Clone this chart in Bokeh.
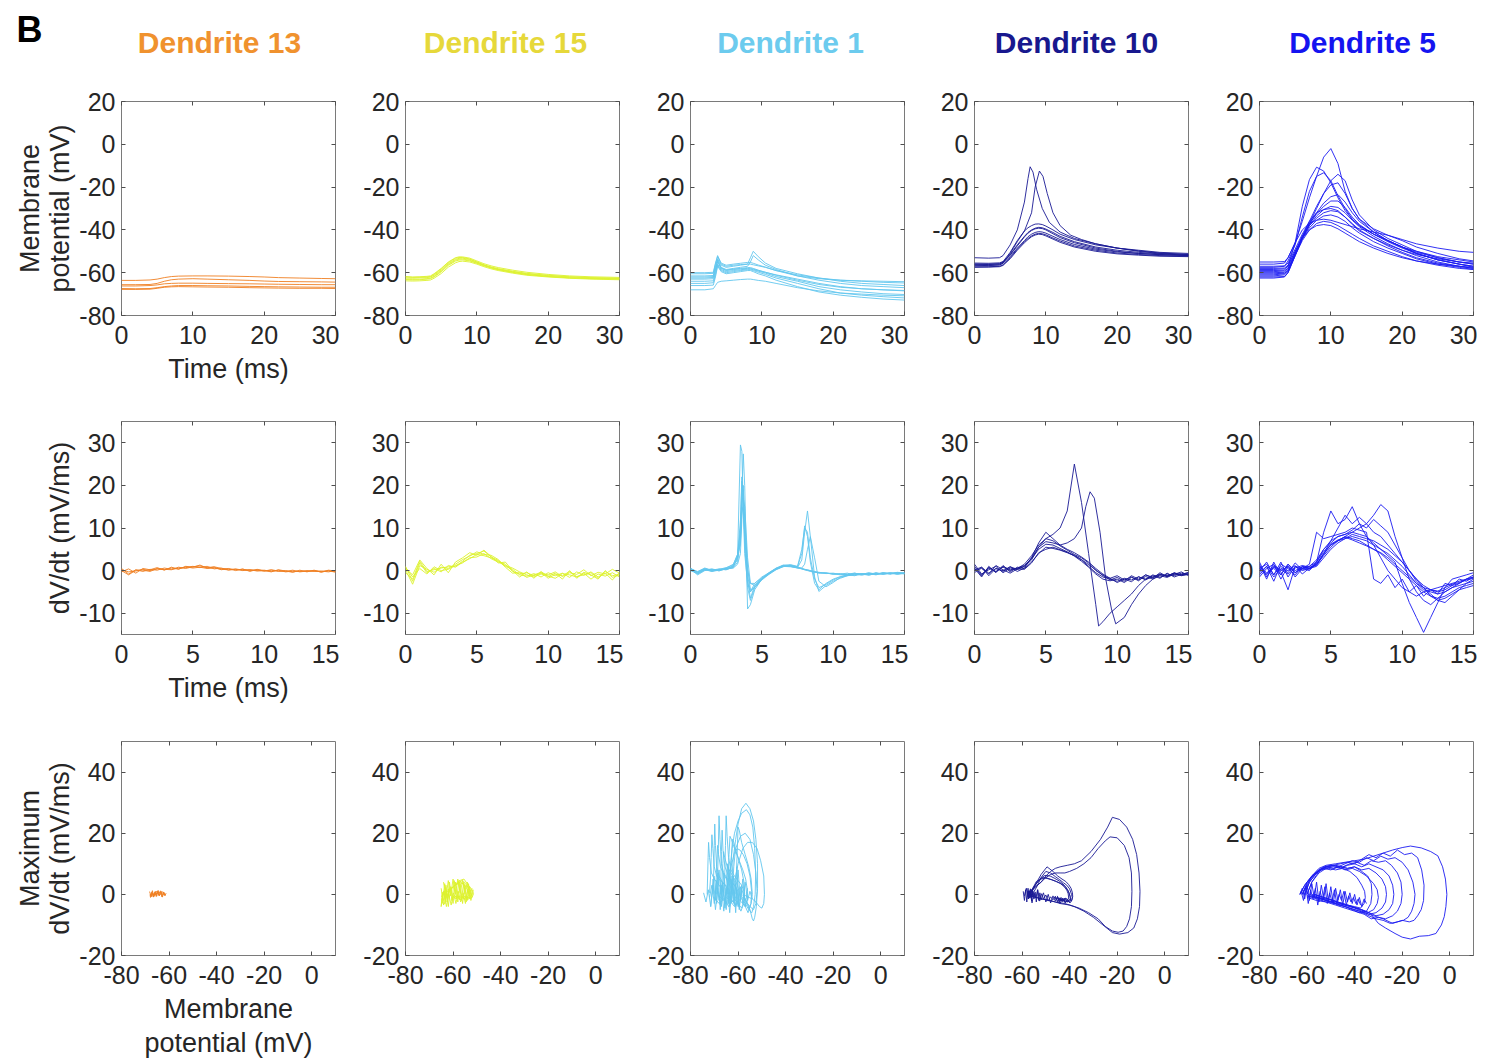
from bokeh.plotting import figure
from bokeh.layouts import column, row
from bokeh.models import LinearAxis, FixedTicker, Label, Range1d
from bokeh.embed import file_html
from bokeh.resources import INLINE

# ---------------------------------------------------------------- labels / colours
dendrite_names = ["Dendrite 13", "Dendrite 15", "Dendrite 1", "Dendrite 10", "Dendrite 5"]
title_colors = ["#F0922E", "#E6D83A", "#6CCBEE", "#18188E", "#1414F0"]
line_colors = ["#F07F22", "#DDF22E", "#63C7EE", "#1A1A95", "#1C1CF2"]

vm_xticks = [0, 10, 20, 30]
vm_yticks = [-80, -60, -40, -20, 0, 20]
dv_xticks = [0, 5, 10, 15]
dv_yticks = [-10, 0, 10, 20, 30]
ph_xticks = [-80, -60, -40, -20, 0]
ph_yticks = [-20, 0, 20, 40]

# common time base for dV/dt traces (ms)
t_half = [0, 0.5, 1, 1.5, 2, 2.5, 3, 3.5, 4, 4.5, 5, 5.5, 6, 6.5, 7, 7.5, 8, 8.5, 9, 9.5,
          10, 10.5, 11, 11.5, 12, 12.5, 13, 13.5, 14, 14.5, 15]

# ================================================================ Dendrite 13
d13_t = [0, 2, 4, 5, 6, 7, 8, 10, 12, 15, 18, 20, 22, 25, 28, 30]
d13_vm_a = [-63.6, -63.6, -63.4, -63.0, -62.3, -61.8, -61.6, -61.5, -61.5, -61.6, -61.8, -62.0, -62.3, -62.5, -62.7, -62.8]
d13_vm_b = [-65.6, -65.6, -65.5, -65.0, -64.0, -63.3, -63.0, -62.8, -63.0, -63.3, -63.6, -63.9, -64.1, -64.2, -64.3, -64.4]
d13_vm_c = [-66.2, -66.2, -66.0, -65.7, -65.2, -65.0, -64.9, -64.9, -65.0, -65.1, -65.2, -65.3, -65.4, -65.5, -65.6, -65.6]
d13_vm_d = [-67.4, -67.5, -67.4, -67.0, -66.5, -66.2, -66.0, -66.0, -66.1, -66.2, -66.4, -66.5, -66.6, -66.7, -66.8, -66.8]
d13_vm_e = [-67.8, -67.8, -67.7, -67.3, -66.8, -66.6, -66.5, -66.6, -66.7, -66.8, -67.0, -67.1, -67.2, -67.3, -67.3, -67.4]

d13_dv_a = [0.5, -0.8, 0.2, -0.2, 0.3, 0.1, 0.6, 0.3, 0.8, 0.5, 0.9, 1.1, 0.7, 0.9, 0.5, 0.4, 0.2, 0.3, 0.0, 0.2, -0.1, 0.1, -0.2, 0.0, -0.3, -0.1, -0.2, 0.0, -0.3, -0.1, -0.2]
d13_dv_b = [0.2, -0.3, -0.1, 0.3, 0.0, 0.4, 0.2, 0.6, 0.4, 0.9, 0.6, 0.8, 0.5, 0.6, 0.3, 0.2, 0.4, 0.1, 0.2, -0.1, 0.1, -0.2, 0.1, -0.3, -0.1, -0.2, 0.0, -0.2, -0.1, -0.3, 0.0]
d13_dv_c = [0.0, -1.0, 0.1, 0.1, -0.2, 0.5, 0.3, 0.2, 0.6, 0.7, 1.0, 0.7, 1.0, 0.4, 0.6, 0.1, 0.3, 0.0, 0.2, 0.0, -0.1, 0.2, -0.1, -0.2, 0.1, -0.3, -0.1, -0.1, -0.2, 0.0, -0.4]
d13_dv_d = [-0.3, 0.4, -0.6, 0.5, 0.2, 0.7, 0.1, 0.8, 0.3, 1.0, 0.8, 1.3, 0.6, 0.8, 0.2, 0.5, 0.0, 0.4, -0.2, 0.3, 0.0, -0.3, 0.2, -0.1, -0.4, 0.1, -0.3, 0.1, -0.4, 0.1, -0.1]

d13_ph_v_a = [-67.5, -67.3, -67.0, -66.6, -66.0, -65.4, -64.8, -64.2, -63.6, -63.0, -62.5, -62.0, -61.6, -61.8, -62.2, -62.6]
d13_ph_d_a = [0.3, -0.8, 0.4, -0.2, 0.6, 0.2, 0.9, 0.5, 1.1, 0.7, 0.8, 0.4, 0.2, -0.1, 0.2, -0.2]
d13_ph_v_b = [-66.5, -66.2, -65.8, -65.3, -64.8, -64.2, -63.6, -63.2, -62.9, -63.1, -63.5, -63.9, -64.3, -64.6]
d13_ph_d_b = [0.2, -0.3, 0.3, 0.0, 0.5, 0.3, 0.8, 0.6, 0.4, 0.1, 0.2, -0.2, 0.1, -0.3]
d13_ph_v_c = [-68.0, -67.8, -67.4, -67.0, -66.5, -66.0, -65.5, -65.2, -65.0, -65.3, -65.7, -66.1, -66.5, -66.8]
d13_ph_d_c = [0.0, -1.0, 0.1, 0.3, -0.2, 0.6, 0.7, 1.0, 0.6, 0.2, 0.0, -0.3, 0.1, -0.4]
d13_ph_v_d = [-67.8, -67.2, -66.6, -66.0, -65.4, -64.8, -64.2, -63.6, -63.0, -62.4, -61.8, -61.2]
d13_ph_d_d = [-0.6, 0.8, -0.9, 0.6, -0.7, 1.0, -0.5, 0.9, -0.8, 0.7, -0.4, 0.3]
d13_ph_v_e = [-68.2, -67.6, -67.0, -66.4, -65.8, -65.2, -64.6, -64.0, -63.4, -62.8, -62.2, -61.6]
d13_ph_d_e = [0.9, -0.5, 1.2, -0.8, 1.0, -0.6, 1.3, -0.4, 0.9, -0.9, 0.6, -0.5]

# ================================================================ Dendrite 15
d15_t = [0, 1, 2, 3, 3.5, 4, 5, 6, 7, 7.5, 8, 9, 10, 11, 12, 13, 15, 17, 20, 23, 26, 30]
d15_vm_a = [-61.8, -62.0, -61.9, -61.7, -61.5, -60.5, -58.0, -55.0, -53.0, -52.6, -52.6, -53.2, -54.5, -55.8, -56.8, -57.6, -58.8, -59.8, -60.8, -61.5, -61.9, -62.2]
d15_vm_b = [-62.5, -62.6, -62.4, -62.3, -62.0, -61.2, -58.8, -55.8, -53.8, -53.3, -53.2, -53.8, -55.0, -56.3, -57.3, -58.1, -59.3, -60.3, -61.2, -61.9, -62.3, -62.6]
d15_vm_c = [-63.2, -63.4, -63.3, -63.0, -62.8, -62.0, -59.6, -56.6, -54.6, -54.1, -54.0, -54.5, -55.6, -56.8, -57.8, -58.6, -59.8, -60.8, -61.7, -62.4, -62.8, -63.0]
d15_vm_d = [-63.8, -63.9, -63.8, -63.6, -63.4, -62.6, -60.4, -57.4, -55.4, -54.8, -54.6, -55.0, -56.0, -57.2, -58.2, -59.0, -60.2, -61.2, -62.0, -62.6, -63.0, -63.3]
d15_vm_e = [-62.0, -62.2, -62.1, -62.0, -61.8, -60.8, -58.3, -55.3, -53.3, -52.9, -52.9, -53.6, -55.0, -56.4, -57.6, -58.5, -59.8, -60.9, -61.8, -62.4, -62.7, -62.9]
d15_vm_f = [-63.0, -63.1, -63.0, -62.8, -62.5, -61.7, -59.2, -56.2, -54.2, -53.7, -53.6, -54.2, -55.4, -56.6, -57.6, -58.4, -59.5, -60.5, -61.4, -62.0, -62.4, -62.7]

d15_dv_a = [1.0, -2.5, 1.8, -0.5, 0.5, -0.3, 1.2, 0.8, 2.0, 2.8, 3.8, 3.5, 3.0, 2.2, 1.5, -0.2, -0.8, -0.5, -1.2, -0.6, -1.0, -0.3, -1.4, -0.5, -0.9, 0.2, -1.2, -0.4, -0.8, 0.3, -0.6]
d15_dv_b = [0.2, -3.2, 1.2, 0.3, -0.4, 0.8, 0.5, 1.5, 2.6, 3.4, 4.4, 3.8, 3.6, 2.6, 1.0, 0.3, -1.0, -1.3, -0.7, -1.5, -0.5, -1.2, -0.6, -1.6, -0.3, -1.1, -0.5, -1.8, -0.2, -1.2, -0.9]
d15_dv_c = [0.8, -1.5, 0.5, -0.8, 0.9, 0.0, 0.3, 1.2, 1.8, 3.0, 3.2, 4.0, 2.8, 2.0, 1.2, 0.6, -0.3, -1.0, -1.5, -0.8, -1.3, -1.8, -0.7, -1.0, -1.5, -0.6, -2.0, -0.8, -1.3, -0.5, -1.5]
d15_dv_d = [-0.5, -2.0, 2.2, -0.2, 0.2, 0.6, 0.9, 1.0, 2.2, 3.6, 4.0, 4.6, 3.2, 2.4, 0.8, -0.6, -0.5, -1.6, -1.0, -0.4, -1.8, -0.9, -1.2, -0.2, -1.4, -1.0, -0.3, -1.5, -0.6, -2.2, -0.4]
d15_dv_e = [0.5, -1.0, 2.5, 0.5, -1.0, 1.5, -0.5, 2.0, 3.0, 4.2, 3.6, 4.8, 3.3, 1.8, 2.0, 0.0, -1.5, -0.3, -1.8, -0.2, -1.4, -0.6, -2.0, 0.0, -1.8, -0.4, -1.0, -2.0, 0.0, -1.6, -1.0]

d15_ph_v_a = [-62.0, -62.4, -61.6, -62.2, -61.8, -61.0, -59.5, -57.5, -55.5, -53.8, -52.6, -52.2, -52.8, -53.6, -54.8, -56.0, -57.0, -57.8, -58.6, -59.4]
d15_ph_d_a = [1.0, -2.5, 1.8, -0.5, 0.5, 1.5, 2.8, 3.8, 3.5, 2.5, 1.0, -0.2, -0.8, -1.2, -0.6, -1.3, -0.4, -1.1, -0.6, -1.0]
d15_ph_v_b = [-63.0, -63.5, -62.6, -63.1, -62.5, -61.5, -59.8, -57.6, -55.4, -53.6, -52.0, -51.4, -52.0, -53.0, -54.2, -55.4, -56.4, -57.2, -58.0, -58.8]
d15_ph_d_b = [0.2, -3.2, 1.2, 0.3, -0.4, 1.2, 2.6, 4.4, 5.0, 3.0, 1.5, 0.2, -1.0, -1.4, -0.6, -1.6, -0.5, -1.3, -0.3, -1.2]
d15_ph_v_c = [-64.5, -65.0, -64.2, -64.7, -64.0, -63.0, -61.2, -59.0, -56.8, -55.0, -53.6, -53.2, -53.8, -54.8, -56.0, -57.2, -58.2, -59.0, -59.8, -60.5]
d15_ph_d_c = [0.8, -4.0, 0.5, -0.8, 0.9, 1.2, 1.8, 3.0, 4.0, 2.8, 1.2, 0.0, -1.0, -1.5, -0.8, -1.8, -0.7, -1.5, -0.6, -2.0]
d15_ph_v_d = [-63.5, -64.0, -63.0, -63.8, -63.2, -62.0, -60.4, -58.2, -56.0, -54.2, -53.0, -52.8, -53.4, -54.4, -55.6, -56.8, -57.8, -58.6, -59.4, -60.2]
d15_ph_d_d = [-0.5, -2.0, 2.2, -0.2, 0.6, 1.0, 2.2, 3.6, 4.6, 3.2, 0.8, -0.6, -1.6, -1.0, -0.4, -1.8, -0.9, -1.2, -0.2, -1.4]
d15_ph_v_e = [-64.5, -63.5, -62.5, -61.5, -60.5, -59.5, -58.5, -57.5, -56.5, -55.5, -54.5, -53.5, -52.5, -51.5]
d15_ph_d_e = [-3, 3.5, -2.5, 4, -2, 4.5, -1.5, 4.5, -2, 4, -2.5, 3.5, -2, 1.5]
d15_ph_v_f = [-65, -64, -63, -62, -61, -60, -59, -58, -57, -56, -55, -54, -53, -52]
d15_ph_d_f = [2, -3.5, 3, -4, 2.5, -3, 4, -2.5, 3.5, -3, 3, -2, 2.5, -1]
d15_ph_v_g = [-64, -63, -62, -61, -60, -59, -58, -57, -56, -55, -54, -53, -52]
d15_ph_d_g = [4, -1, 4.5, -0.5, 5, 0, 5, 0.5, 4.5, 0, 4, -0.5, 2]
d15_ph_v_h = [-64.8, -63.8, -62.8, -61.8, -60.8, -59.8, -58.8, -57.8, -56.8, -55.8, -54.8, -53.8, -52.8]
d15_ph_d_h = [-2, 1, -4, 0, -3.5, 0.5, -3, 1, -2.5, 0.5, -3, 1.5, -1.5]

# ================================================================ Dendrite 1
d1_t = [0, 2, 3.2, 3.5, 3.8, 4.3, 5, 6, 7, 8, 8.4, 8.8, 9.5, 10.5, 12, 15, 18, 21, 24, 27, 30]
d1_vm_a = [-60.5, -60.5, -60.3, -56.0, -52.5, -56.0, -57.0, -56.5, -56.2, -56.0, -56.0, -56.3, -56.8, -57.5, -59.0, -61.0, -62.5, -63.5, -64.0, -64.5, -64.8]
d1_vm_b = [-61.5, -61.5, -61.3, -57.0, -53.5, -56.5, -57.5, -57.0, -56.5, -56.0, -53.0, -50.0, -52.5, -55.5, -58.0, -60.5, -62.5, -64.0, -65.0, -65.5, -66.0]
d1_vm_c = [-62.5, -62.5, -62.2, -58.0, -54.0, -57.5, -58.5, -58.0, -57.5, -57.0, -55.0, -52.0, -54.0, -56.5, -58.5, -61.5, -63.5, -65.0, -66.0, -66.5, -67.0]
d1_vm_d = [-63.0, -63.0, -62.8, -59.0, -55.0, -58.0, -59.0, -58.5, -58.2, -58.0, -58.0, -58.3, -59.0, -59.8, -61.0, -63.0, -65.0, -66.5, -67.5, -68.0, -68.5]
d1_vm_e = [-64.0, -64.0, -63.8, -60.0, -56.0, -58.5, -59.5, -59.0, -58.6, -58.3, -58.3, -58.6, -59.3, -60.2, -61.8, -64.0, -66.5, -68.0, -69.0, -69.8, -70.2]
d1_vm_f = [-65.0, -65.0, -64.7, -61.0, -56.5, -59.0, -60.0, -59.5, -59.0, -58.6, -58.6, -59.0, -59.8, -60.8, -62.5, -65.0, -67.5, -69.5, -70.5, -71.2, -71.8]
d1_vm_g = [-66.0, -66.0, -65.8, -62.0, -57.0, -59.5, -60.5, -60.0, -59.5, -59.0, -59.0, -59.5, -60.5, -61.5, -63.5, -66.5, -69.0, -70.5, -71.5, -72.3, -72.8]
d1_vm_h = [-68.0, -68.0, -67.5, -66.0, -64.5, -64.0, -63.8, -63.5, -63.2, -63.0, -63.0, -63.2, -63.6, -64.0, -65.0, -67.0, -68.5, -69.5, -70.0, -70.5, -70.8]
d1_vm_i = [-60.0, -60.0, -59.8, -55.5, -52.0, -55.5, -56.5, -56.0, -55.6, -55.2, -55.2, -55.6, -56.4, -57.4, -59.0, -61.5, -62.8, -63.5, -63.8, -64.0, -64.2]
d1_vm_j = [-62.0, -62.0, -61.8, -58.5, -54.5, -57.8, -58.8, -58.3, -58.0, -57.6, -57.6, -58.0, -58.8, -59.8, -61.2, -63.5, -65.5, -66.8, -67.5, -68.0, -68.3]

d1_td = [0, 0.5, 1, 1.5, 2, 2.5, 3, 3.3, 3.5, 3.6, 3.7, 3.8, 4.0, 4.2, 4.5, 5, 5.5, 6, 6.5, 7, 7.5,
         7.8, 8.0, 8.2, 8.4, 8.7, 9.0, 9.5, 10, 10.5, 11, 11.5, 12, 12.5, 13, 13.5, 14, 14.5, 15]
d1_dv_a = [0.4, -0.8, 0.2, -0.2, 0.3, 0.2, 0.8, 3.5, 29.5, 28, 14, 4, -3, -5, -3, -1.5, -0.5, 0.5, 1.2, 1.0, 0.6, 0.4, 0.2, 0.0, -0.2, -0.4, -0.5, -0.6, -0.8, -0.7, -1.0, -0.6, -0.9, -0.7, -1.0, -0.6, -0.8, -0.5, -0.7]
d1_dv_b = [0.2, -0.3, 0.5, 0.0, 0.2, 0.6, 1.5, 3.8, 6, 18, 27.4, 20, -9, -8, -4.5, -2, -0.8, 0.3, 1.0, 1.2, 0.8, 0.5, 0.3, 0.1, 0.0, -0.3, -0.6, -0.5, -0.9, -0.8, -0.6, -1.1, -0.7, -0.9, -0.5, -0.8, -0.6, -0.9, -0.6]
d1_dv_c = [0.6, -0.5, 0.1, 0.4, -0.1, 0.5, 1.0, 3.0, 10, 21, 16, 8, -2, -6.5, -3.5, -1.8, -0.6, 0.4, 1.0, 1.1, 0.7, 2.5, 9, 14, 8, -1.5, -4.9, -3.5, -2.5, -1.8, -1.2, -1.0, -0.8, -1.1, -0.6, -0.9, -0.5, -0.7, -0.6]
d1_dv_d = [0.0, -0.6, 0.3, 0.1, 0.4, 0.2, 1.2, 2.5, 7, 15, 19, 12, 1, -4.5, -4, -2.2, -0.9, 0.2, 0.9, 1.3, 0.9, 4, 10.5, 8, 2, -3, -4.5, -3, -2, -1.4, -1.0, -0.8, -1.1, -0.7, -0.9, -0.5, -0.8, -0.6, -0.8]
d1_dv_e = [0.3, -1.0, 0.0, 0.2, 0.0, 0.4, 0.6, 1.5, 4, 12, 17, 15, 3, -3, -3.5, -2, -0.7, 0.3, 1.1, 1.0, 0.6, 0.5, 0.3, 0.2, 0.0, -0.2, -0.4, -0.6, -0.7, -1.0, -0.8, -0.6, -0.9, -0.5, -0.8, -0.6, -0.7, -0.4, -0.6]
d1_dv_f = [0.5, -0.4, 0.4, -0.2, 0.1, 0.5, 0.9, 3.2, 12, 22, 18, 6, -4, -7, -4, -2, -0.5, 0.6, 1.3, 1.2, 0.8, 0.6, 1.5, 5, 8, 3, -2.5, -3.8, -2.8, -1.6, -1.2, -0.9, -0.7, -1.0, -0.8, -0.5, -0.7, -0.6, -0.5]
d1_dv_g = [0.1, -0.7, 0.2, 0.3, 0.2, 0.3, 0.7, 2.0, 8, 16, 20, 10, -1, -5, -3.8, -1.9, -0.7, 0.4, 1.0, 0.9, 0.7, 0.4, 0.2, 0.1, -0.1, -0.3, -0.5, -0.7, -0.6, -0.9, -1.1, -0.7, -0.8, -0.6, -0.9, -0.7, -0.5, -0.8, -0.6]
d1_dv_h = [0.4, -0.2, 0.6, 0.1, 0.3, 0.7, 1.3, 3.8, 9, 15, 14, 9, 0, -3, -3, -1.7, -0.6, 0.5, 1.2, 1.4, 1.0, 5, 10, 9, 3, -2, -4, -3.2, -2.2, -1.5, -1.0, -1.2, -0.8, -0.9, -0.6, -0.8, -0.7, -0.5, -0.7]

d1_ph_v_1 = [-63, -62.8, -62.5, -62, -61, -60, -58.5, -56.7, -55, -53.5, -52.5, -51.8, -51.8, -52.3, -53, -53.5, -54, -55, -56, -57, -57.5]
d1_ph_d_1 = [0, 2, 6, 12, 18, 23, 28, 29.8, 28, 24, 18, 10, 2, -4, -7.5, -8.7, -8, -5, -3, -1.5, -0.5]
d1_ph_v_2 = [-64, -63.8, -63.3, -62.5, -61.5, -60, -58.5, -56.5, -55, -53.8, -53, -52.6, -52.8, -53.5, -54.2, -55, -56, -57, -58]
d1_ph_d_2 = [0, 3, 9, 15, 20, 24, 26.5, 27.7, 26, 22, 15, 7, 0, -4, -6, -5.5, -3.5, -1.5, -0.3]
d1_ph_v_3 = [-62, -61.5, -60, -58, -56, -54, -52, -50.5, -49.2, -48.9, -49.2, -50, -51, -52.5, -54, -56, -58]
d1_ph_d_3 = [0, 4, 10, 15, 17, 17, 15, 11, 6, 0, -3, -4.5, -4, -2.5, -1.5, -0.8, 0]
d1_ph_v_4 = [-65, -64.5, -63, -61, -59, -57, -55, -53.5, -52.5, -52, -52.5, -53.5, -55, -57, -59]
d1_ph_d_4 = [0, 3, 9, 15, 19, 20, 18, 13, 7, 1, -3, -5, -4, -2, -0.5]
d1_ph_v_5 = [-72, -71.6, -71.3, -71.0, -70.6, -70.0, -69.0, -67.5, -66, -64.5, -63.5, -63.5, -64.5, -66, -68]
d1_ph_d_5 = [0.5, 5, 12, 19.5, 15, 9, 6, 4.5, 3.5, 2.5, 1, -1.5, -3, -2, -0.5]
d1_ph_v_6 = [-69, -68.6, -68.3, -68.0, -67.6, -67.0, -66, -64.5, -63, -61.5, -60.5, -60.5, -61.5, -63, -65]
d1_ph_d_6 = [0, 6, 15, 25.7, 18, 10, 7, 5, 4, 3, 1, -2, -4, -2.5, -1]
d1_ph_v_7 = [-66, -65.6, -65.3, -65.0, -64.6, -64.0, -63, -61.5, -60, -58.5, -57.5, -57.5, -58.5, -60, -62]
d1_ph_d_7 = [0.5, 6, 16, 25.7, 19, 12, 8, 6, 4.5, 3, 1, -2, -4.5, -3, -1]
d1_ph_v_8 = [-67.5, -67.2, -67.0, -66.7, -66.3, -65.5, -64, -62.5, -61, -60, -60, -61, -62.5, -64]
d1_ph_d_8 = [0, 7, 14, 21, 14, 9, 6, 4, 2.5, 1, -2, -3.5, -2, -0.5]
d1_ph_v_9 = [-61, -60.7, -60.3, -60, -59.5, -58.5, -57, -55.5, -54.5, -54, -54.5, -55.5, -57, -59]
d1_ph_d_9 = [0, 7, 15, 22, 21, 17, 13, 9, 5, 0, -3, -5, -3, -1]
d1_ph_v_10 = [-63.5, -63.2, -62.8, -62.4, -61.8, -60.8, -59.5, -58, -56.8, -56, -56, -57, -58.5, -60.5]
d1_ph_d_10 = [0, 5, 11, 18, 17, 14, 11, 8, 5, 1, -2, -4, -2.5, -1]
d1_ph_v_11 = [-70.5, -70.2, -70.0, -69.8, -69.5, -69, -68, -66.5, -65, -64, -64, -65, -66.5]
d1_ph_d_11 = [0, 8, 16, 23, 16, 9, 6, 4, 2.5, 1, -1.5, -3, -1]
d1_ph_v_12 = [-73, -72.8, -72.6, -72.4, -72.0, -71.2, -70, -68.5, -67, -66, -66.5, -68, -70]
d1_ph_d_12 = [0, 6, 12, 17, 12, 7, 5, 3.5, 2, 0.5, -2, -3, -1]
d1_ph_v_13 = [-67, -66.7, -66.4, -66.1, -65.6, -64.5, -63, -61.5, -60.2, -59.5, -59.8, -61, -62.5]
d1_ph_d_13 = [0, 5, 10, 14, 12, 9, 7, 5, 3, 0.5, -2, -4, -2]
d1_ph_v_14 = [-64.5, -64.2, -63.8, -63.4, -62.8, -61.5, -60, -58.5, -57.5, -57.2, -57.6, -58.8, -60.5]
d1_ph_d_14 = [0, 6, 13, 19, 18, 15, 12, 8, 4, 0, -3, -5.5, -2.5]
d1_ph_v_15 = [-69.5, -69.2, -68.9, -68.6, -68.2, -67.4, -66, -64.5, -63.2, -62.5, -62.8, -64, -65.5]
d1_ph_d_15 = [0, 5, 11, 16, 13, 9, 6.5, 4.5, 2.5, 0.5, -2.5, -4, -1.5]
d1_ph_v_16 = [-62.5, -62.2, -61.8, -61.3, -60.5, -59.2, -57.8, -56.2, -55, -54.3, -54.6, -55.8, -57.5]
d1_ph_d_16 = [0, 4, 9, 13, 15, 14.5, 13, 10, 6, 1, -3, -6, -3]
d1_ph_v_n1 = [-74.5, -73.5, -72.5, -71.5, -70.5, -69.5, -68.5, -67.5, -66.5, -65.5, -64.5, -63.5, -62.5, -61.5, -60.5, -59.5, -58.5, -57.5]
d1_ph_d_n1 = [0.5, -2.5, 1.5, -4, 3, -5, 2, -3.5, 4, -4.5, 2.5, -6, 3.5, -3, 1.5, -4, 2, -1]
d1_ph_v_n2 = [-72, -71, -70, -69, -68, -67, -66, -65, -64, -63, -62, -61, -60, -59, -58, -57, -56, -55, -54]
d1_ph_d_n2 = [-1, 3, -3, 4.5, -2, 3, -5.5, 2, -3, 5, -2.5, 3.5, -4, 2.5, -3, 4, -2, 1, -1.5]
d1_ph_v_n3 = [-70, -69, -68, -67, -66, -65, -64, -63, -62, -61, -60, -59, -58, -57, -56]
d1_ph_d_n3 = [6, -3, 8, -4, 7, -5, 9, -3, 6, -6, 8, -2, 5, -4, 2]
d1_ph_v_n4 = [-71.5, -70.5, -69.5, -68.5, -67.5, -66.5, -65.5, -64.5, -63.5, -62.5, -61.5, -60.5, -59.5, -58.5]
d1_ph_d_n4 = [-4, 5, -2, 7, -5, 4, -3, 10, -4, 6, -2, 9, -5, 3]

# ================================================================ Dendrite 10
d10_t = [0, 2, 3.5, 4, 5, 6, 7, 7.5, 8, 8.5, 9, 9.5, 10, 11, 12, 14, 17, 20, 23, 26, 30]
d10_vm_a = [-55.5, -55.6, -55.4, -54.8, -50.5, -45.0, -40.5, -39.0, -38.0, -37.3, -37.2, -37.5, -38.2, -40.0, -42.0, -44.5, -47.0, -48.5, -49.5, -50.5, -51.0]
d10_vm_b = [-56.0, -56.0, -55.8, -55.0, -51.5, -47.0, -43.0, -41.2, -40.0, -39.2, -38.8, -39.0, -39.6, -41.2, -43.0, -45.5, -48.0, -49.5, -50.5, -51.2, -51.8]
d10_vm_c = [-56.5, -56.7, -56.4, -55.6, -52.5, -48.5, -45.0, -43.2, -42.0, -41.2, -40.8, -41.0, -41.5, -43.0, -44.5, -46.8, -49.0, -50.3, -51.0, -51.6, -52.0]
d10_vm_d = [-57.2, -57.2, -57.0, -56.3, -53.0, -49.0, -45.5, -44.0, -42.8, -42.0, -41.6, -41.8, -42.3, -43.8, -45.2, -47.5, -49.5, -50.8, -51.5, -52.0, -52.3]
d10_vm_e = [-57.5, -57.4, -57.2, -56.6, -53.5, -49.5, -46.0, -44.5, -43.2, -42.4, -42.0, -42.2, -42.8, -44.3, -45.8, -48.0, -50.0, -51.2, -51.8, -52.3, -52.5]
d10_vm_f = [-56.0, -56.2, -55.9, -55.2, -51.8, -47.5, -43.3, -41.5, -40.3, -39.5, -39.2, -39.4, -40.0, -41.8, -43.6, -46.0, -48.5, -50.0, -51.0, -51.5, -52.0]
d10_ts1 = [0, 2, 3.5, 4, 5, 6, 7, 7.5, 7.8, 8.2, 8.7, 9.5, 10.5, 12, 14, 17, 20, 23, 26, 30]
d10_vm_s1 = [-53.0, -53.2, -53.0, -52.0, -47.0, -40.0, -27.0, -16.0, -10.5, -13.0, -21.0, -30.0, -36.5, -41.0, -44.0, -46.5, -48.5, -49.8, -50.8, -51.5]
d10_ts2 = [0, 2, 3.5, 4, 5, 6, 7, 8, 8.5, 9.1, 9.6, 10.2, 11, 12, 13.5, 15, 17, 20, 23, 26, 30]
d10_vm_s2 = [-56.5, -56.5, -56.3, -55.5, -51.0, -45.5, -40.5, -32.0, -20.0, -12.5, -15.0, -23.0, -32.0, -38.0, -42.5, -44.5, -46.5, -48.5, -50.0, -51.0, -51.5]

d10_dv_e1 = [0.5, -1.5, 1.0, -0.5, 1.2, -0.3, 0.8, 0.5, 2.0, 4.0, 5.5, 5.2, 4.8, 4.2, 3.5, 2.5, 1.0, -0.5, -1.5, -2.0, -2.5, -1.8, -2.2, -1.5, -2.0, -1.0, -1.6, -0.8, -1.2, -0.6, -1.0]
d10_dv_e2 = [1.5, -0.8, 0.2, 1.0, -0.5, 0.6, 0.3, 1.0, 2.5, 5.5, 7.5, 7.0, 5.8, 4.8, 3.8, 3.0, 1.8, 0.0, -1.0, -2.2, -1.6, -2.5, -1.2, -2.0, -1.0, -1.8, -0.5, -1.4, -0.9, -0.3, -1.2]
d10_dv_e3 = [-0.5, 0.8, -1.2, 0.5, 0.0, 0.9, -0.2, 0.6, 3.0, 6.5, 9.0, 7.5, 6.0, 5.0, 4.2, 3.2, 2.0, 0.5, -0.8, -1.8, -2.8, -2.0, -2.6, -1.4, -2.2, -1.2, -1.8, -0.6, -1.5, -0.9, -0.4]
d10_dv_e4 = [0.0, 0.5, -0.8, 1.2, 0.2, -0.6, 0.4, 0.3, 1.8, 4.2, 5.0, 5.5, 4.9, 4.3, 3.6, 2.6, 1.4, 0.2, -1.2, -1.8, -1.2, -2.2, -1.5, -2.4, -1.0, -1.6, -1.0, -1.2, -0.6, -1.1, -0.8]
d10_dv_e5 = [1.0, -1.2, 0.6, -0.2, 0.8, 0.0, 0.6, 1.2, 2.8, 5.0, 6.2, 6.0, 5.2, 4.4, 3.4, 2.2, 0.8, -0.8, -2.0, -2.4, -2.0, -2.8, -1.6, -2.2, -1.4, -2.0, -0.9, -1.3, -0.5, -1.0, -0.7]
d10_tds1 = [0, 0.5, 1, 1.5, 2, 2.5, 3, 3.5, 4, 4.5, 5, 5.5, 6, 6.5, 7, 7.5, 8, 8.5, 8.7, 9, 9.5, 10, 10.5, 11, 11.5, 12, 12.5, 13, 13.5, 14, 14.5, 15]
d10_dv_s1 = [0.5, -1.0, 0.8, -0.3, 1.0, 0.2, 0.5, 1.5, 3.5, 6.0, 7.5, 8.5, 10.0, 14.0, 25.0, 16.0, 4.0, -8.0, -13.0, -12.0, -10.0, -8.5, -7.0, -5.5, -3.5, -2.0, -1.5, -0.8, -1.4, -0.6, -1.0, -0.5]
d10_tds2 = [0, 0.5, 1, 1.5, 2, 2.5, 3, 3.5, 4, 4.5, 5, 5.5, 6, 6.5, 7, 7.5, 7.8, 8.1, 8.4, 8.8, 9.2, 9.6, 9.9, 10.5, 11, 11.5, 12, 12.5, 13, 13.5, 14, 14.5, 15]
d10_dv_s2 = [0.2, 0.8, -0.6, 0.5, -0.2, 0.9, 0.3, 1.0, 3.0, 5.5, 6.8, 6.5, 6.0, 6.5, 7.5, 10.0, 15.0, 18.5, 17.0, 9.0, -2.0, -9.0, -12.5, -11.0, -8.0, -5.5, -3.5, -2.0, -1.2, -1.6, -0.8, -1.2, -0.9]

d10_ph_v_1 = [-57.5, -57.2, -57.6, -57.0, -57.4, -56.8, -55.5, -53.5, -51.5, -49.5, -47.5, -45.5, -43.5, -41.8, -40.5, -39.8, -39.6, -40.0, -40.8, -41.8, -42.8, -43.6, -44.4, -45.2, -46.0]
d10_ph_d_1 = [0.5, -1.5, 1.0, -0.5, 1.2, 0.5, 2.0, 4.0, 5.5, 5.2, 4.8, 4.2, 3.5, 2.5, 1.0, -0.5, -1.5, -2.0, -2.5, -1.8, -2.2, -1.5, -2.0, -1.0, -1.6]
d10_ph_v_2 = [-56.0, -55.7, -56.2, -55.6, -55.9, -55.2, -53.8, -52.0, -50.0, -48.0, -46.0, -44.2, -42.6, -41.2, -40.0, -39.2, -38.9, -39.2, -40.0, -41.0, -42.0, -42.8, -43.6, -44.4, -45.2]
d10_ph_d_2 = [1.5, -0.8, 0.2, 1.0, -0.5, 0.6, 2.5, 5.5, 7.5, 7.0, 5.8, 4.8, 3.8, 3.0, 1.8, 0.0, -1.0, -2.2, -1.6, -2.5, -1.2, -2.0, -1.0, -1.8, -0.5]
d10_ph_v_3 = [-56.8, -56.5, -57.0, -56.4, -56.7, -56.0, -54.5, -52.0, -49.5, -47.0, -45.0, -43.2, -41.6, -40.4, -39.4, -38.8, -38.7, -39.0, -39.8, -40.8, -41.8, -42.6, -43.4, -44.2, -45.0]
d10_ph_d_3 = [-0.5, 0.8, -1.2, 0.5, 0.0, 0.9, 3.0, 6.5, 9.0, 7.5, 6.0, 5.0, 4.2, 3.2, 2.0, 0.5, -0.8, -1.8, -2.8, -2.0, -2.6, -1.4, -2.2, -1.2, -1.8]
d10_ph_v_4 = [-57.2, -57.0, -57.4, -56.8, -57.1, -56.7, -55.6, -54.0, -52.0, -50.0, -48.0, -46.0, -44.0, -42.4, -41.2, -40.6, -40.4, -40.8, -41.6, -42.6, -43.4, -44.2, -45.0, -45.8, -46.4]
d10_ph_d_4 = [0.0, 0.5, -0.8, 1.2, 0.2, 0.4, 1.8, 4.2, 5.0, 5.5, 4.9, 4.3, 3.6, 2.6, 1.4, 0.2, -1.2, -1.8, -1.2, -2.2, -1.5, -2.4, -1.0, -1.6, -1.0]
d10_ph_v_5 = [-56.5, -56.2, -56.7, -56.1, -56.4, -55.8, -54.6, -52.6, -50.4, -48.2, -46.2, -44.4, -42.8, -41.4, -40.4, -39.8, -39.6, -40.0, -40.8, -41.8, -42.8, -43.6, -44.4, -45.2, -46.0]
d10_ph_d_5 = [1.0, -1.2, 0.6, -0.2, 0.8, 1.2, 2.8, 5.0, 6.2, 6.0, 5.2, 4.4, 3.4, 2.2, 0.8, -0.8, -2.0, -2.4, -2.0, -2.8, -1.6, -2.2, -1.4, -2.0, -0.9]
d10_ph_v_b1 = [-57, -55, -52, -50, -48, -46, -44, -41, -38, -35, -31, -27, -24, -22, -19, -16, -13.5, -11.8, -10.8, -10.4, -10.6, -11.5, -13, -15.5, -19, -22, -26, -30, -34, -38, -42, -46, -50, -54, -57]
d10_ph_d_b1 = [0, 2, 4, 6, 7.5, 8.5, 9, 9.5, 10, 11, 14, 18, 22, 25.2, 24.5, 22, 18, 13, 7, 1, -4, -8, -11, -12.5, -13, -12.5, -10, -7.5, -5.5, -4, -3, -2.5, -1.8, -1.0, -0.5]
d10_ph_v_b2 = [-57, -55, -52, -50, -48, -46, -44, -42, -40, -37, -34, -31, -28, -25, -23, -20, -17, -15, -14, -13.8, -14, -14.8, -16, -17.5, -19.6, -22, -25, -28, -32, -36, -40, -44, -48, -52, -55]
d10_ph_d_b2 = [0, 2, 4, 5.5, 6.5, 7, 7, 7, 7.5, 8.5, 10, 12, 15, 17.5, 18.8, 18.5, 16, 12, 7, 1, -4, -8, -10.5, -12, -12.4, -12, -10.5, -8, -6, -4.5, -3.5, -3, -2, -1.5, -0.8]
d10_ph_v_n = [-59.5, -59, -58.5, -58, -57.5, -57, -56.5, -56, -55.5, -55, -54.5, -54, -53.5, -53, -52.5, -52, -51, -50, -49, -48, -47, -46, -45, -44, -43, -42, -41, -40]
d10_ph_d_n = [1, -2, 1.5, -2.5, 2, -1, 1.8, -2.2, 1.2, -1.5, 0.8, -2.5, 1.5, -2, 0.5, -1.8, 0.5, -2.5, 0, -2.8, -0.5, -2.2, -1, -3, -1.2, -2.6, -1.5, -2.8]
d10_ph_v_n2 = [-59, -58.2, -57.4, -56.6, -55.8, -55, -54.2, -53.4, -52.6, -51.8, -51, -50, -49, -48, -47, -46, -45, -44, -43, -42]
d10_ph_d_n2 = [-0.5, 2, -1.5, 1.2, -2.8, 0.5, -1.2, 1.5, -2.2, 0.2, -1.5, -0.2, -2.2, -0.8, -1.8, -0.6, -2.6, -1.2, -2.4, -1.6]

# ================================================================ Dendrite 5
d5_t = [0, 2, 3.5, 4, 5, 6, 7, 8, 9, 10, 11, 12, 13, 14, 16, 18, 20, 22, 25, 28, 30]
d5_vm_01 = [-59, -59, -58.8, -57, -46, -36, -25, -15, -6, -2, -9, -22, -30, -35, -39.5, -42.5, -45, -48, -51, -53.5, -54.5]
d5_vm_02 = [-56, -56, -55.5, -53, -46, -29, -16.5, -10.7, -12.5, -18, -25, -31, -35, -38, -42, -45, -48, -50, -52.5, -54, -55]
d5_vm_03 = [-60, -60, -59.8, -58, -51, -44, -37, -30, -23, -17, -14, -17, -26, -33, -40, -44, -47, -50, -53, -55, -56]
d5_vm_04 = [-57.5, -57.5, -57, -54.5, -47, -34, -22, -15, -13.3, -17, -24, -30, -35, -38, -42, -45, -48, -50.5, -53, -55, -56]
d5_vm_05 = [-58, -58, -57.8, -56.5, -50, -43, -36, -29, -23, -19, -18, -23, -30, -35, -41, -45, -48, -51, -54, -56, -57]
d5_vm_06 = [-61, -61, -60.5, -59, -52, -44, -37.5, -32, -27.5, -24.5, -23.5, -27, -32, -36, -41, -45, -48, -51, -54, -56, -57]
d5_vm_07 = [-59.5, -59.5, -59.2, -58, -51, -43, -37, -32.5, -29, -26.5, -26.5, -29.5, -34, -37.5, -42, -45.5, -48.5, -51, -54, -56, -57.5]
d5_vm_08 = [-62, -62, -61.8, -60, -52, -44, -38, -33.5, -30.5, -29, -29.5, -32, -35.5, -38.5, -43, -46.5, -49.5, -52, -55, -57, -58]
d5_vm_09 = [-60.5, -60.5, -60.2, -59, -51, -43, -38, -34.5, -32, -31, -31.5, -34, -37, -40, -44, -47.5, -50.5, -53, -55.5, -57, -58]
d5_vm_10 = [-61.5, -61.5, -61, -59.5, -51.5, -44, -39, -35.5, -33.5, -33, -34, -36, -39, -41.5, -45.5, -48.5, -51, -53.5, -56, -57.5, -58.5]
d5_vm_11 = [-55, -55, -54.8, -53, -46, -40, -37, -35.5, -35, -35.5, -36.5, -37.5, -38.5, -39.5, -41, -42.5, -44.5, -46.5, -48.5, -50, -50.5]
d5_vm_12 = [-62.5, -62.5, -62, -60, -52, -45, -40, -37, -36, -36.5, -38, -40, -42, -44, -47.5, -50, -52.5, -54.5, -56.5, -58, -58.5]
d5_vm_13 = [-58.5, -58.5, -58.2, -57, -50, -44, -40, -38, -37.5, -38, -39.5, -41.5, -43.5, -45.5, -48.5, -51, -53, -54.5, -56, -57, -57.5]
d5_vm_14 = [-57, -57, -56.8, -55.5, -49, -42, -36, -32, -30.5, -30, -31, -34, -37.5, -40.5, -44, -47, -49.5, -51.5, -53.5, -55, -55.5]

d5_dv_01 = [1.5, -2.0, 2.0, -1.0, 1.5, -0.5, 1.0, 0.5, 1.0, 3.0, 5.0, 6.5, 7.5, 8.0, 7.5, 7.0, 6.0, 5.0, 4.0, 2.5, 1.0, -1.0, -3.0, -4.5, -5.0, -5.5, -5.0, -4.0, -3.5, -3.0, -2.5]
d5_dv_02 = [0.5, 1.5, -1.0, 2.0, -1.5, 1.0, 0.0, 0.5, 2.0, 9.0, 14.0, 11.0, 12.0, 15.0, 11.0, 8.0, 6.0, 3.0, 0.0, -2.0, -4.0, -5.0, -6.0, -5.0, -4.5, -4.0, -3.5, -3.0, -2.5, -2.0, -1.5]
d5_dv_03 = [-1.0, 1.0, -2.5, 1.5, 0.5, -1.0, 1.0, 0.5, 1.5, 4.0, 6.0, 7.0, 8.0, 9.0, 10.0, 11.0, 13.0, 15.5, 14.0, 8.0, 3.0, -2.0, -5.0, -7.0, -8.0, -6.5, -5.0, -4.0, -3.0, -2.0, -1.0]
d5_dv_04 = [0.5, -1.0, 0.8, -0.3, -4.5, 1.0, 0.5, 1.0, 2.5, 5.0, 7.0, 8.0, 8.5, 9.0, 8.5, 8.0, 6.5, 5.0, 3.5, 2.0, -3.0, -7.5, -11.0, -14.5, -11.0, -7.5, -4.0, -2.0, -1.5, -1.0, -0.5]
d5_dv_05 = [2.0, -1.5, 1.0, 0.0, 1.0, -1.5, 0.5, 1.5, 9.0, 7.5, 8.0, 8.5, 9.0, 10.0, 9.5, 9.0, -2.0, -3.0, -1.0, -4.0, -2.0, -5.0, -3.5, -6.0, -4.5, -5.5, -3.0, -3.5, -2.0, -2.5, -1.5]
d5_dv_06 = [-0.5, 1.0, -1.5, 0.5, 0.0, 1.2, -0.8, 0.6, 1.5, 3.5, 5.5, 7.0, 8.0, 7.5, 7.0, 6.0, 5.0, 4.0, 2.5, 1.0, -0.5, -2.0, -3.5, -5.0, -6.0, -6.5, -6.0, -5.0, -4.0, -3.5, -3.0]
d5_dv_07 = [1.0, -0.5, 0.5, -1.0, 1.5, 0.0, 0.8, 0.3, 1.5, 4.0, 7.0, 10.0, 13.0, 11.0, 12.5, 11.0, 9.0, 8.0, 6.0, 4.0, 2.0, 0.0, -2.0, -4.0, -6.0, -7.0, -6.5, -5.5, -4.5, -4.0, -3.5]
d5_dv_08 = [0.0, 2.0, -1.0, 1.0, -0.5, 1.8, 0.2, 1.0, 2.0, 4.5, 6.0, 7.0, 7.5, 8.5, 8.0, 7.5, 7.0, 6.0, 5.0, 3.5, 2.0, 0.0, -2.5, -4.0, -5.5, -7.0, -7.5, -6.0, -4.5, -3.0, -2.0]
d5_dv_09 = [-1.5, 0.5, 1.5, -2.0, 1.0, -0.5, 0.5, 0.0, 2.0, 5.0, 6.5, 8.0, 8.5, 9.5, 11.0, 10.0, 12.0, 10.5, 9.0, 6.0, 3.0, 0.0, -2.0, -3.5, -4.5, -5.0, -4.5, -3.5, -3.0, -2.0, -1.5]
d5_dv_10 = [0.8, -0.8, 1.2, 0.2, -0.8, 0.6, 1.2, 0.8, 1.2, 3.8, 6.2, 7.2, 7.8, 7.2, 6.5, 5.8, 5.0, 4.2, 3.0, 1.5, 0.0, -1.5, -3.0, -4.0, -4.5, -4.8, -4.0, -3.2, -2.8, -2.2, -1.8]

d5_ph_v_1 = [-62, -60, -58, -55, -52, -48, -44, -40, -36, -32, -28, -24, -20, -16.5, -12, -8, -5, -3, -1.8, -1.2, -1.6, -2.3, -3.5, -5.8, -9, -12.8, -16.5, -20, -23, -27, -30, -33.4, -37, -42, -47, -52, -57]
d5_ph_d_1 = [0, 3, 6, 8.5, 9.5, 10, 10.5, 11, 11.5, 12.5, 13.5, 14.5, 15.3, 15.8, 15.2, 14, 12.6, 9, 5, 0, -4, -7.3, -10, -12.8, -13.5, -13.7, -14.6, -14, -12.8, -11, -9.5, -6.2, -5, -4, -3, -2, -1]
d5_ph_v_2 = [-63, -61, -58, -55, -52, -49, -46, -43, -40, -37, -34, -31, -28, -25, -22, -19, -16, -13.5, -11.8, -10.8, -11, -12, -13.5, -15, -17, -20, -24, -28, -32, -36, -40, -44, -48, -52, -56, -60]
d5_ph_d_2 = [0, 3, 6, 8, 9, 9.5, 10, 10.5, 10, 11.5, 13, 12, 13.5, 12.5, 14.5, 13, 13.5, 12, 8, 3, -2, -5, -7, -8.5, -9, -8.5, -9.5, -8, -7, -6, -5, -4, -3, -2.5, -2, -1]
d5_ph_v_3 = [-61, -59, -56, -53, -50, -47, -44, -41, -38, -35, -32, -29, -26, -23, -20, -17.5, -15.5, -14.6, -15, -16, -17.5, -19.5, -22, -25, -28, -31, -34, -38, -42, -46, -50, -54, -58]
d5_ph_d_3 = [0, 4, 7, 9, 9.5, 9, 10, 11, 10.5, 12, 11, 12.5, 11.5, 12, 10.5, 8, 4, 0, -3, -5.5, -7.5, -8.5, -9, -9.5, -8.5, -8, -7, -5.5, -4.5, -3.5, -2.5, -1.5, -0.5]
d5_ph_v_4 = [-62, -60, -57, -54, -51, -48, -45, -42, -39, -36, -33, -30, -27, -24.5, -22, -20.5, -20, -20.5, -22, -24, -27, -30, -33, -36, -40, -44, -48, -52, -56, -60]
d5_ph_d_4 = [0, 3.5, 6.5, 8.5, 9, 9.5, 9, 10, 10.5, 9.5, 11, 10.5, 11, 9.5, 7, 4, 0, -3, -5.5, -7, -8, -7.5, -8, -6.5, -5.5, -4.5, -3.5, -2.5, -1.5, -0.5]
d5_ph_v_5 = [-60, -58, -55, -52, -49, -46, -43, -40, -37, -34, -31, -28, -25.5, -24, -23.5, -24, -25.5, -28, -31, -34, -37, -41, -45, -49, -53, -57]
d5_ph_d_5 = [0, 4, 7, 8.5, 9, 8.5, 9.5, 10, 9, 10, 9, 8, 6, 3, 0, -3, -5, -6.5, -7, -6, -5, -4, -3, -2, -1, 0]
d5_ph_v_6 = [-63, -61, -58, -55, -52, -49, -46, -43, -40, -37, -34, -31, -28.5, -27, -26.6, -27, -28.5, -31, -34, -37, -40, -44, -48, -52, -56, -60]
d5_ph_d_6 = [0, 3, 6, 8, 9, 8.5, 9, 8.5, 9, 8, 8.5, 7, 5, 2.5, 0, -2.5, -4.5, -6, -6.5, -5.5, -4.5, -3.5, -2.5, -2, -1, -0.5]
d5_ph_v_7 = [-61, -59, -56, -53, -50, -47, -44, -41, -38, -35, -32, -30.5, -30, -30.5, -32, -34.5, -37.5, -41, -45, -49, -53, -57]
d5_ph_d_7 = [0, 4, 7, 8.5, 8, 9, 8, 8.5, 7.5, 6, 3.5, 1.5, -1, -3, -5, -6, -5, -4, -3, -2, -1, 0]
d5_ph_v_8 = [-62, -60, -57, -54, -51, -48, -45, -42, -39, -37, -35.8, -35.5, -36, -37.5, -40, -43, -46, -49, -52, -55, -58]
d5_ph_d_8 = [0, 4, 6.5, 8, 8.5, 8, 8.5, 7.5, 5.5, 3, 1, -1, -3, -4.5, -4, -3.5, -3, -2, -1.5, -1, 0]
d5_ph_v_9 = [-60, -58, -55, -52, -49, -46, -43, -40, -37, -34.5, -33, -32.7, -33.2, -35, -38, -41, -44, -47, -50, -53, -56, -59]
d5_ph_d_9 = [0, 4, 7.5, 9, 9.5, 9, 8.5, 9, 7.5, 6, 3.5, 0, -3, -5.5, -6, -5, -4, -3.5, -2.5, -1.5, -1, 0]
d5_ph_v_n1 = [-63, -62, -61, -60, -59, -58, -57, -56, -55, -54, -53, -52, -51, -50, -49, -48, -47, -46, -45, -44, -43, -42, -41, -40, -39, -38, -37, -36, -35]
d5_ph_d_n1 = [0, 2, -1.5, 3, -2, 3.5, -1, 4, -2.5, 3, -1.5, 3.5, -2.5, 2.5, -3, 2, -2, 1.5, -3.5, 1, -2.5, 0.5, -3, 0, -3.5, -1, -4, -1.5, -3]
d5_ph_v_n2 = [-62.5, -61.5, -60.5, -59.5, -58.5, -57.5, -56.5, -55.5, -54.5, -53.5, -52.5, -51.5, -50.5, -49.5, -48.5, -47.5, -46.5, -45.5, -44.5, -43.5, -42.5, -41.5, -40.5, -39.5, -38.5, -37.5]
d5_ph_d_n2 = [1, -2, 2.5, -3, 1.5, -1.5, 2, -3.5, 1, -2, 2.5, -3, 0.5, -2.5, 1.5, -3, 0, -2, 1, -3.5, -0.5, -2.5, -1, -3, -1.5, -3.5]

# ---------------------------------------------------------------- grouping
vm_groups = [
    [(d13_t, d13_vm_a), (d13_t, d13_vm_b), (d13_t, d13_vm_c), (d13_t, d13_vm_d), (d13_t, d13_vm_e)],
    [(d15_t, d15_vm_a), (d15_t, d15_vm_b), (d15_t, d15_vm_c), (d15_t, d15_vm_d), (d15_t, d15_vm_e), (d15_t, d15_vm_f)],
    [(d1_t, d1_vm_a), (d1_t, d1_vm_b), (d1_t, d1_vm_c), (d1_t, d1_vm_d), (d1_t, d1_vm_e), (d1_t, d1_vm_f),
     (d1_t, d1_vm_g), (d1_t, d1_vm_h), (d1_t, d1_vm_i), (d1_t, d1_vm_j)],
    [(d10_t, d10_vm_a), (d10_t, d10_vm_b), (d10_t, d10_vm_c), (d10_t, d10_vm_d), (d10_t, d10_vm_e), (d10_t, d10_vm_f),
     (d10_ts1, d10_vm_s1), (d10_ts2, d10_vm_s2)],
    [(d5_t, v) for v in (d5_vm_01, d5_vm_02, d5_vm_03, d5_vm_04, d5_vm_05, d5_vm_06, d5_vm_07,
                         d5_vm_08, d5_vm_09, d5_vm_10, d5_vm_11, d5_vm_12, d5_vm_13, d5_vm_14)],
]
dv_groups = [
    [(t_half, d13_dv_a), (t_half, d13_dv_b), (t_half, d13_dv_c), (t_half, d13_dv_d)],
    [(t_half, d15_dv_a), (t_half, d15_dv_b), (t_half, d15_dv_c), (t_half, d15_dv_d), (t_half, d15_dv_e)],
    [(d1_td, v) for v in (d1_dv_a, d1_dv_b, d1_dv_c, d1_dv_d, d1_dv_e, d1_dv_f, d1_dv_g, d1_dv_h)],
    [(t_half, d10_dv_e1), (t_half, d10_dv_e2), (t_half, d10_dv_e3), (t_half, d10_dv_e4), (t_half, d10_dv_e5),
     (d10_tds1, d10_dv_s1), (d10_tds2, d10_dv_s2)],
    [(t_half, v) for v in (d5_dv_01, d5_dv_02, d5_dv_03, d5_dv_04, d5_dv_05, d5_dv_06, d5_dv_07,
                           d5_dv_08, d5_dv_09, d5_dv_10)],
]
ph_groups = [
    [(d13_ph_v_a, d13_ph_d_a), (d13_ph_v_b, d13_ph_d_b), (d13_ph_v_c, d13_ph_d_c),
     (d13_ph_v_d, d13_ph_d_d), (d13_ph_v_e, d13_ph_d_e)],
    [(d15_ph_v_a, d15_ph_d_a), (d15_ph_v_b, d15_ph_d_b), (d15_ph_v_c, d15_ph_d_c), (d15_ph_v_d, d15_ph_d_d),
     (d15_ph_v_e, d15_ph_d_e), (d15_ph_v_f, d15_ph_d_f), (d15_ph_v_g, d15_ph_d_g), (d15_ph_v_h, d15_ph_d_h)],
    [(d1_ph_v_1, d1_ph_d_1), (d1_ph_v_2, d1_ph_d_2), (d1_ph_v_3, d1_ph_d_3), (d1_ph_v_4, d1_ph_d_4),
     (d1_ph_v_5, d1_ph_d_5), (d1_ph_v_6, d1_ph_d_6), (d1_ph_v_7, d1_ph_d_7), (d1_ph_v_8, d1_ph_d_8),
     (d1_ph_v_9, d1_ph_d_9), (d1_ph_v_10, d1_ph_d_10), (d1_ph_v_11, d1_ph_d_11), (d1_ph_v_12, d1_ph_d_12),
     (d1_ph_v_13, d1_ph_d_13), (d1_ph_v_14, d1_ph_d_14), (d1_ph_v_15, d1_ph_d_15), (d1_ph_v_16, d1_ph_d_16),
     (d1_ph_v_n1, d1_ph_d_n1), (d1_ph_v_n2, d1_ph_d_n2), (d1_ph_v_n3, d1_ph_d_n3), (d1_ph_v_n4, d1_ph_d_n4)],
    [(d10_ph_v_1, d10_ph_d_1), (d10_ph_v_2, d10_ph_d_2), (d10_ph_v_3, d10_ph_d_3), (d10_ph_v_4, d10_ph_d_4),
     (d10_ph_v_5, d10_ph_d_5), (d10_ph_v_b1, d10_ph_d_b1), (d10_ph_v_b2, d10_ph_d_b2),
     (d10_ph_v_n, d10_ph_d_n), (d10_ph_v_n2, d10_ph_d_n2)],
    [(d5_ph_v_1, d5_ph_d_1), (d5_ph_v_2, d5_ph_d_2), (d5_ph_v_3, d5_ph_d_3), (d5_ph_v_4, d5_ph_d_4),
     (d5_ph_v_5, d5_ph_d_5), (d5_ph_v_6, d5_ph_d_6), (d5_ph_v_7, d5_ph_d_7), (d5_ph_v_8, d5_ph_d_8),
     (d5_ph_v_9, d5_ph_d_9), (d5_ph_v_n1, d5_ph_d_n1), (d5_ph_v_n2, d5_ph_d_n2)],
]

# ---------------------------------------------------------------- layout / styling
FONT = "Liberation Sans"
TXT = "#262626"
FW = 214
LEFTS = [121, 66, 67, 66, 67]
TITLE_H = 78
title_x = [219, 505, 790, 1076, 1362]      # title centres (px)
title_y = 36                               # title anchor inside title strip (px from bottom)
panel_label_xy = (16, 49)                  # "B" anchor inside title strip (px)


def style_axis(ax, ticks, standoff):
    ax.ticker = FixedTicker(ticks=ticks)
    ax.major_label_overrides = {t: str(t) for t in ticks}
    ax.major_tick_in = 4
    ax.major_tick_out = 0
    ax.minor_tick_line_color = None
    ax.axis_line_color = None
    ax.major_tick_line_color = "#4d4d4d"
    ax.major_label_text_font = FONT
    ax.major_label_text_font_size = "25px"
    ax.major_label_text_color = TXT
    ax.major_label_standoff = standoff
    ax.axis_label_text_font = FONT
    ax.axis_label_text_font_size = "27px"
    ax.axis_label_text_font_style = "normal"
    ax.axis_label_text_color = TXT
    ax.axis_label_text_line_height = 1.0


def hidden_axis(ticks):
    ax = LinearAxis(ticker=FixedTicker(ticks=ticks))
    ax.major_tick_in = 4
    ax.major_tick_out = 0
    ax.minor_tick_line_color = None
    ax.axis_line_color = None
    ax.major_tick_line_color = "#4d4d4d"
    ax.major_label_text_font_size = "0px"
    ax.major_label_text_color = None
    ax.major_label_standoff = 0
    return ax


def panel(col, xr, yr, xt, yt, fh, top, bottom, traces, color, xlabel=None, ylabel=None, xlabel_lh=1.0):
    p = figure(frame_width=FW, frame_height=fh, x_range=Range1d(*xr), y_range=Range1d(*yr),
               output_backend="svg", toolbar_location=None,
               min_border_left=LEFTS[col], min_border_right=4,
               min_border_top=top, min_border_bottom=bottom,
               background_fill_color="white", border_fill_color="white")
    p.xgrid.visible = False
    p.ygrid.visible = False
    p.outline_line_color = "#7a7a7a"
    p.outline_line_width = 1
    style_axis(p.xaxis[0], xt, 10)
    style_axis(p.yaxis[0], yt, 6)
    if xlabel:
        p.xaxis[0].axis_label = xlabel
        p.xaxis[0].axis_label_standoff = 7
        p.xaxis[0].axis_label_text_line_height = xlabel_lh
    if ylabel:
        p.yaxis[0].axis_label = ylabel
        p.yaxis[0].axis_label_standoff = 1
    p.add_layout(hidden_axis(xt), "above")
    p.add_layout(hidden_axis(yt), "right")
    p.multi_line(xs=[list(x) for x, _ in traces], ys=[list(y) for _, y in traces],
                 line_color=color, line_width=1, line_alpha=0.9)
    return p


# title strip
head = figure(width=1490, height=TITLE_H, x_range=Range1d(0, 1490), y_range=Range1d(0, TITLE_H),
              output_backend="svg", toolbar_location=None, min_border=0,
              x_axis_type=None, y_axis_type=None,
              background_fill_color="white", border_fill_color="white")
head.outline_line_color = None
head.xgrid.visible = False
head.ygrid.visible = False
head.add_layout(Label(x=panel_label_xy[0], y=panel_label_xy[1], text="B", text_align="left",
                      text_baseline="alphabetic", text_font=FONT, text_font_size="36px",
                      text_font_style="bold", text_color="black"))
for i in range(5):
    head.add_layout(Label(x=title_x[i], y=title_y, text=dendrite_names[i], text_align="center",
                          text_baseline="alphabetic", text_font=FONT, text_font_size="30px",
                          text_font_style="bold", text_color=title_colors[i]))

row1, row2, row3 = [], [], []
for i in range(5):
    row1.append(panel(i, (0, 30), (-80, 20), vm_xticks, vm_yticks, 214, 101 - TITLE_H, 90,
                      vm_groups[i], line_colors[i],
                      xlabel="Time (ms)" if i == 0 else None,
                      ylabel="Membrane\npotential (mV)" if i == 0 else None))
    row2.append(panel(i, (0, 15), (-15, 35), dv_xticks, dv_yticks, 213, 16, 90,
                      dv_groups[i], line_colors[i],
                      xlabel="Time (ms)" if i == 0 else None,
                      ylabel="dV/dt (mV/ms)" if i == 0 else None))
    row3.append(panel(i, (-80, 10), (-20, 50), ph_xticks, ph_yticks, 214, 17, 100,
                      ph_groups[i], line_colors[i],
                      xlabel="Membrane\npotential (mV)" if i == 0 else None,
                      ylabel="Maximum\ndV/dt (mV/ms)" if i == 0 else None,
                      xlabel_lh=1.15))

layout = column(head, row(*row1), row(*row2), row(*row3))
open("out.html", "w").write(file_html(layout, INLINE))
